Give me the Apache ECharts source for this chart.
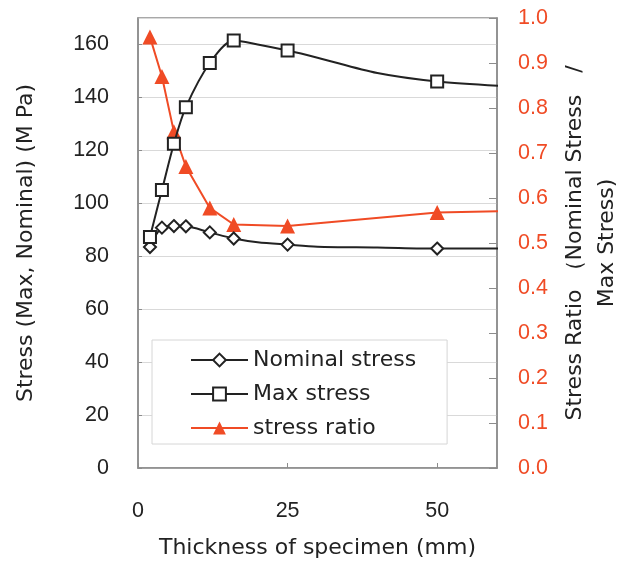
<!DOCTYPE html>
<html>
<head>
<meta charset="utf-8">
<script src="https://cdn.jsdelivr.net/npm/echarts@6/dist/echarts.min.js"></script>
<style>
  html, body { margin: 0; padding: 0; background: #ffffff; }
  #chart { width: 627px; height: 561px; }
</style>
</head>
<body>
<div id="chart"></div>
<script>
// Specimen thickness (mm) for the stress curves; unmarked points only shape the line
const thickness   = [2, 4, 6, 8, 12, 16, 20, 25, 30, 40, 50, 61];
const nominal     = [83.5, 90.8, 91.4, 91.3, 89.0, 86.7, 85.3, 84.4, 83.6, 83.3, 82.9, 82.9];
const maxStress   = [87.3, 105.0, 122.5, 136.3, 153.0, 161.5, 160.0, 157.7, 155.0, 149.2, 146.0, 144.3];
const marked      = [true, true, true, true, true, true, false, true, false, false, true, false];

// Stress ratio (nominal / max)
const ratioThickness = [2, 4, 6, 8, 12, 16, 25, 50, 61];
const stressRatio    = [0.958, 0.870, 0.747, 0.670, 0.578, 0.541, 0.538, 0.568, 0.571];

const seriesNames = ['Nominal stress', 'Max stress', 'stress ratio'];
const xTitle = 'Thickness of specimen (mm)';
const yLeftTitle = 'Stress (Max, Nominal) (M Pa)';
const yRightTitle = 'Stress Ratio \uFF08Nominal Stress\u3000/\nMax Stress)';

const ORANGE = '#F04B25';
const INK = '#222222';
const FRAME = '#8c8c8c';
const TICK_FONT = 'Liberation Sans';
const TITLE_FONT = 'DejaVu Sans';

function pairs(xs, ys, flags) {
  return xs.map((x, i) => {
    const item = { value: [x, ys[i]] };
    if (flags && !flags[i]) item.symbol = 'none';
    return item;
  });
}

const chart = echarts.init(document.getElementById('chart'), null, { renderer: 'canvas' });

chart.setOption({
  animation: false,
  backgroundColor: '#ffffff',
  grid: {
    left: 138, right: 130, top: 18, bottom: 93,
    outerBoundsMode: 'none',
    containLabel: false,
    show: true, borderColor: FRAME, borderWidth: 1.5, backgroundColor: 'transparent'
  },
  legend: {
    orient: 'vertical',
    left: 152, top: 340,
    padding: [9, 31, 5, 38],
    itemGap: 12,
    itemWidth: 57,
    itemHeight: 16,
    borderColor: '#d6d6d6',
    borderWidth: 1,
    backgroundColor: '#ffffff',
    textStyle: { fontFamily: TITLE_FONT, fontSize: 22, color: INK, lineHeight: 22 },
    data: seriesNames
  },
  xAxis: {
    type: 'value',
    min: 0, max: 60, interval: 25,
    name: xTitle,
    nameLocation: 'middle',
    nameGap: 69,
    nameTextStyle: { fontFamily: TITLE_FONT, fontSize: 22, color: INK },
    axisLine: { lineStyle: { color: FRAME, width: 1.5 } },
    axisTick: { inside: true, length: 5, lineStyle: { color: FRAME } },
    axisLabel: { margin: 32, fontFamily: TICK_FONT, fontSize: 21.5, color: INK, showMaxLabel: false },
    splitLine: { show: false }
  },
  yAxis: [
    {
      type: 'value',
      min: 0, max: 170, interval: 20,
      name: yLeftTitle,
      nameLocation: 'middle',
      nameRotate: 90,
      nameGap: 101,
      nameTextStyle: { fontFamily: TITLE_FONT, fontSize: 22, color: INK },
      axisLine: { show: true, lineStyle: { color: FRAME, width: 1.5 } },
      axisTick: { show: true, inside: true, length: 4, lineStyle: { color: FRAME } },
      axisLabel: { margin: 29, fontFamily: TICK_FONT, fontSize: 21.5, color: INK, showMaxLabel: false },
      splitLine: { show: true, lineStyle: { color: '#d9d9d9', width: 1 } }
    },
    {
      type: 'value',
      position: 'right',
      min: 0, max: 1, interval: 0.1,
      name: yRightTitle,
      nameLocation: 'middle',
      nameRotate: 90,
      nameGap: 61,
      nameTextStyle: { fontFamily: TITLE_FONT, fontSize: 22, color: INK, lineHeight: 32, align: 'center' },
      axisLine: { show: true, lineStyle: { color: FRAME, width: 1.5 } },
      axisTick: { show: true, inside: true, length: 8, lineStyle: { color: FRAME } },
      axisLabel: {
        margin: 21, fontFamily: TICK_FONT, fontSize: 21.5, color: ORANGE,
        formatter: v => v.toFixed(1)
      },
      splitLine: { show: false }
    }
  ],
  series: [
    {
      name: seriesNames[0],
      type: 'line',
      yAxisIndex: 0,
      clip: false,
      smooth: 0.3,
      symbol: 'diamond',
      symbolSize: 12,
      lineStyle: { color: INK, width: 2 },
      itemStyle: { color: '#ffffff', borderColor: INK, borderWidth: 2 },
      data: pairs(thickness, nominal, marked),
      z: 3
    },
    {
      name: seriesNames[1],
      type: 'line',
      yAxisIndex: 0,
      clip: false,
      smooth: 0.3,
      symbol: 'rect',
      symbolSize: 12,
      lineStyle: { color: INK, width: 2 },
      itemStyle: { color: '#ffffff', borderColor: INK, borderWidth: 2 },
      data: pairs(thickness, maxStress, marked),
      z: 3
    },
    {
      name: seriesNames[2],
      type: 'line',
      yAxisIndex: 1,
      clip: false,
      symbol: 'triangle',
      symbolSize: 15,
      lineStyle: { color: ORANGE, width: 2 },
      itemStyle: { color: ORANGE, borderWidth: 0 },
      data: pairs(ratioThickness, stressRatio, ratioThickness.map(t => t !== 61)),
      z: 2
    }
  ]
});
</script>
</body>
</html>
